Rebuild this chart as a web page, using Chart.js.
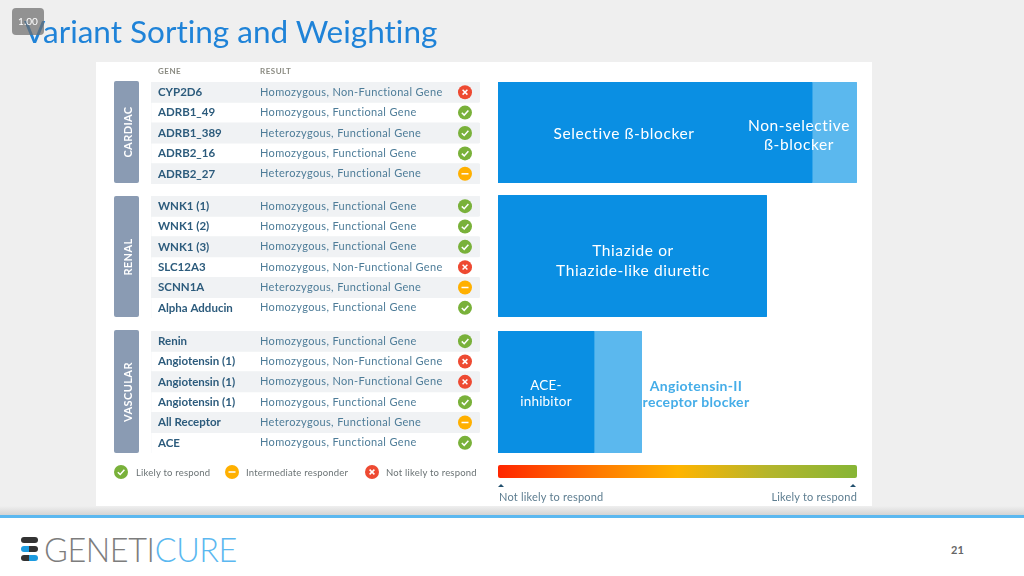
<!DOCTYPE html>
<html lang="en">
<head>
<meta charset="UTF-8">
<title>Variant Sorting and Weighting</title>
<script src="https://cdnjs.cloudflare.com/ajax/libs/Chart.js/4.4.1/chart.umd.min.js"></script>
<style>
    html, body { margin: 0; padding: 0; }
    body { width: 1024px; height: 576px; overflow: hidden; position: relative; background: #efefef; font-family: Lato, sans-serif; font-variant-ligatures: none; }
    .abs { position: absolute; white-space: nowrap; }
    #title { left: 24px; top: 11px; font-size: 31.5px; line-height: 40px; color: #1f83d8; }
    #badge { left: 12px; top: 8px; width: 32px; height: 27px; border-radius: 4px; background: rgba(110,110,110,.72); color: #fff; font-size: 10px; line-height: 27px; text-align: center; }
    #card { left: 96px; top: 62px; width: 776px; height: 444px; background: #fff; }
    #content { left: 0; top: 0; width: 1024px; height: 576px; filter: blur(0.45px); }
    #content canvas { position: absolute; }
    .head { font-size: 8px; font-weight: 700; color: #8b8b82; letter-spacing: .5px; top: 66px; }
    .side { left: 114px; width: 25px; background: #8a9bb3; border-radius: 2px; }
    .side span { position: absolute; left: 50%; top: 50%; transform: translate(-50%,-50%) rotate(-90deg); color: #fff; font-size: 11px; font-weight: 700; letter-spacing: .4px; white-space: nowrap; }
    .drug { color: #fff; font-size: 15.5px; line-height: 19px; letter-spacing: .6px; text-align: center; transform: translateX(-50%); }
    .legend { font-size: 9.5px; color: #6b7375; top: 467px; letter-spacing: .2px; }
    #scale { left: 498px; top: 465px; width: 359px; height: 13px; border-radius: 2px; background: linear-gradient(90deg, #ff2600 0%, #ff7a00 28%, #ffb400 50%, #b5b52c 75%, #86b535 100%); }
    .tri { top: 484px; width: 0; height: 0; border-left: 3px solid transparent; border-right: 3px solid transparent; border-bottom: 3px solid #22506e; }
    .end { font-size: 11px; color: #5d7d90; top: 490px; letter-spacing: .2px; }
    #shadow { left: 0; top: 506px; width: 1024px; height: 9px; background: linear-gradient(#efefef, #d4d4d4); }
    #footer { left: 0; top: 515px; width: 1024px; height: 61px; background: #fff; border-top: 3px solid #5bb8f0; box-sizing: border-box; }
    #logo { left: 44px; top: 530px; font-size: 32.4px; line-height: 40px; font-weight: 300; color: #7d7d7d; letter-spacing: -.4px; }
    #logo b { font-weight: 300; color: #5bb8f0; }
    .pill { left: 21px; width: 17px; height: 6px; border-radius: 3px; }
    #page { left: 951px; top: 543px; font-size: 11px; font-weight: 700; color: #666; }
</style>
</head>
<body>
<div class="abs" id="card"></div>
<div class="abs" id="content">
    <div class="abs head" style="left:158px">GENE</div>
    <div class="abs head" style="left:260px">RESULT</div>
    <div class="abs side" style="top:81px;height:102px"><span>CARDIAC</span></div>
    <div class="abs side" style="top:196px;height:121px"><span>RENAL</span></div>
    <div class="abs side" style="top:330px;height:123px"><span>VASCULAR</span></div>

    <canvas id="rows-cardiac" width="329" height="102" style="left:151px;top:82px"></canvas>
    <canvas id="rows-renal" width="329" height="122" style="left:151px;top:196px"></canvas>
    <canvas id="rows-vascular" width="329" height="122" style="left:151px;top:331px"></canvas>
    <canvas id="bar-cardiac" width="359" height="101" style="left:498px;top:82px"></canvas>
    <canvas id="bar-renal" width="269" height="122" style="left:498px;top:195px"></canvas>
    <canvas id="bar-vascular" width="144" height="122" style="left:498px;top:331px"></canvas>

    <div class="abs drug" style="left:624px;top:124px">Selective ß-blocker</div>
    <div class="abs drug" style="left:799px;top:116px">Non-selective<br>ß-blocker</div>
    <div class="abs drug" style="left:633px;top:240px;line-height:20px">Thiazide or<br>Thiazide-like diuretic</div>
    <div class="abs drug" style="left:546px;top:377px;font-size:13.5px;line-height:16px;letter-spacing:.2px">ACE-<br>inhibitor</div>
    <div class="abs drug" style="left:696px;top:378px;font-size:14px;line-height:16px;letter-spacing:.3px;color:#45ade8;font-weight:700">Angiotensin-II<br>receptor blocker</div>

    <canvas id="lg-0" width="16" height="16" style="left:113px;top:464px"></canvas>
    <div class="abs legend" style="left:136px">Likely to respond</div>
    <canvas id="lg-1" width="16" height="16" style="left:224px;top:464px"></canvas>
    <div class="abs legend" style="left:246px">Intermediate responder</div>
    <canvas id="lg-2" width="16" height="16" style="left:364px;top:464px"></canvas>
    <div class="abs legend" style="left:386px">Not likely to respond</div>

    <div class="abs" id="scale"></div>
    <div class="abs tri" style="left:498px"></div>
    <div class="abs tri" style="left:850px"></div>
    <div class="abs end" style="left:499px">Not likely to respond</div>
    <div class="abs end" style="right:167px">Likely to respond</div>
</div>
<div class="abs" id="shadow"></div>
<div class="abs" id="footer"></div>
<div class="abs pill" style="top:537px;background:#333"></div>
<div class="abs pill" style="top:546px;background:linear-gradient(90deg,#1c9be0 50%,#333 50%)"></div>
<div class="abs pill" style="top:555px;background:linear-gradient(90deg,#333 50%,#1c9be0 50%)"></div>
<div class="abs" id="logo">GENETI<b>CURE</b></div>
<div class="abs" id="page">21</div>
<div class="abs" id="title">Variant Sorting and Weighting</div>
<div class="abs" id="badge">1.00</div>

<script>
// table rows, per group
const cardiacGenes = ['CYP2D6', 'ADRB1_49', 'ADRB1_389', 'ADRB2_16', 'ADRB2_27'];
const cardiacResults = ['Homozygous, Non-Functional Gene', 'Homozygous, Functional Gene', 'Heterozygous, Functional Gene', 'Homozygous, Functional Gene', 'Heterozygous, Functional Gene'];
const cardiacStatus = [2, 0, 0, 0, 1];

const renalGenes = ['WNK1 (1)', 'WNK1 (2)', 'WNK1 (3)', 'SLC12A3', 'SCNN1A', 'Alpha Adducin'];
const renalResults = ['Homozygous, Functional Gene', 'Homozygous, Functional Gene', 'Homozygous, Functional Gene', 'Homozygous, Non-Functional Gene', 'Heterozygous, Functional Gene', 'Homozygous, Functional Gene'];
const renalStatus = [0, 0, 0, 2, 1, 0];

const vascularGenes = ['Renin', 'Angiotensin (1)', 'Angiotensin (1)', 'Angiotensin (1)', 'All Receptor', 'ACE'];
const vascularResults = ['Homozygous, Functional Gene', 'Homozygous, Non-Functional Gene', 'Homozygous, Non-Functional Gene', 'Homozygous, Functional Gene', 'Heterozygous, Functional Gene', 'Homozygous, Functional Gene'];
const vascularStatus = [0, 2, 2, 0, 1, 0];

// response weighting, percent of the scale
const selectiveBeta = [87.5];
const nonSelectiveBeta = [12.5];
const thiazide = [100];
const aceInhibitor = [66.7];
const arb = [33.3];

const statusColors = ['#79b13a', '#ffb000', '#ee4a32'];
const blue = '#0a8fe3';
const lightBlue = '#5bb8ee';

// green tick / orange minus / red cross
function drawStatus(ctx, cx, cy, status, r) {
    ctx.save();
    ctx.fillStyle = statusColors[status];
    ctx.beginPath();
    ctx.arc(cx, cy, r, 0, Math.PI * 2);
    ctx.fill();
    ctx.strokeStyle = '#fff';
    ctx.lineWidth = 1.5;
    ctx.beginPath();
    if (status === 0) {
        ctx.moveTo(cx - 3.2, cy + 0.2);
        ctx.lineTo(cx - 0.8, cy + 2.5);
        ctx.lineTo(cx + 3.4, cy - 2.2);
    } else if (status === 1) {
        ctx.moveTo(cx - 3.5, cy);
        ctx.lineTo(cx + 3.5, cy);
    } else {
        ctx.moveTo(cx - 2.4, cy - 2.4);
        ctx.lineTo(cx + 2.4, cy + 2.4);
        ctx.moveTo(cx + 2.4, cy - 2.4);
        ctx.lineTo(cx - 2.4, cy + 2.4);
    }
    ctx.stroke();
    ctx.restore();
}

// result text and status icon on each row, placed with the row axis
const rowExtras = {
    id: 'rowExtras',
    afterDatasetsDraw(chart, args, opts) {
        const ctx = chart.ctx;
        const y = chart.scales.y;
        opts.results.forEach((text, i) => {
            const py = y.getPixelForTick(i);
            ctx.save();
            ctx.font = '11px Lato';
            ctx.letterSpacing = '0.35px';
            ctx.fillStyle = '#4d7c98';
            ctx.textBaseline = 'middle';
            ctx.fillText(text, 109, py);
            ctx.restore();
            drawStatus(ctx, 314, py, opts.status[i], 7);
        });
    }
};

function rowsChart(id, genes, results, status) {
    return new Chart(document.getElementById(id), {
        type: 'bar',
        data: {
            labels: genes,
            datasets: [{
                data: genes.map((g, i) => (i % 2 === 0 ? 1 : 0)),
                backgroundColor: '#f0f2f4',
                borderRadius: 2,
                barPercentage: 1,
                categoryPercentage: 1
            }]
        },
        options: {
            indexAxis: 'y',
            responsive: false,
            animation: false,
            layout: { padding: 0 },
            plugins: { legend: { display: false }, tooltip: { enabled: false }, rowExtras: { results, status } },
            scales: {
                x: { display: false, min: 0, max: 1 },
                y: {
                    grid: { display: false, drawTicks: false, tickLength: 0 },
                    border: { display: false },
                    afterFit(scale) {
                        scale.paddingTop = 0;
                        scale.paddingBottom = 0;
                        scale.width = 0;
                    },
                    ticks: {
                        z: 1,
                        mirror: true,
                        padding: 7,
                        autoSkip: false,
                        color: '#2c5b7c',
                        font: { family: 'Lato', size: 11.5, weight: '700' }
                    }
                }
            }
        },
        plugins: [rowExtras]
    });
}

function barChart(id, label, series, colors) {
    return new Chart(document.getElementById(id), {
        type: 'bar',
        data: {
            labels: [label],
            datasets: series.map((values, i) => ({
                data: values,
                backgroundColor: colors[i],
                barPercentage: 1,
                categoryPercentage: 1,
                borderSkipped: false,
                borderRadius: 2
            }))
        },
        options: {
            indexAxis: 'y',
            responsive: false,
            animation: false,
            layout: { padding: 0 },
            plugins: { legend: { display: false }, tooltip: { enabled: false } },
            scales: {
                x: { display: false, stacked: true, min: 0, max: 100 },
                y: { display: false, stacked: true }
            }
        }
    });
}

rowsChart('rows-cardiac', cardiacGenes, cardiacResults, cardiacStatus);
rowsChart('rows-renal', renalGenes, renalResults, renalStatus);
rowsChart('rows-vascular', vascularGenes, vascularResults, vascularStatus);

barChart('bar-cardiac', 'Cardiac', [selectiveBeta, nonSelectiveBeta], [blue, lightBlue]);
barChart('bar-renal', 'Renal', [thiazide], [blue]);
barChart('bar-vascular', 'Vascular', [aceInhibitor, arb], [blue, lightBlue]);

[0, 1, 2].forEach(s => {
    const ctx = document.getElementById('lg-' + s).getContext('2d');
    drawStatus(ctx, 8, 8, s, 7);
});
</script>
</body>
</html>
